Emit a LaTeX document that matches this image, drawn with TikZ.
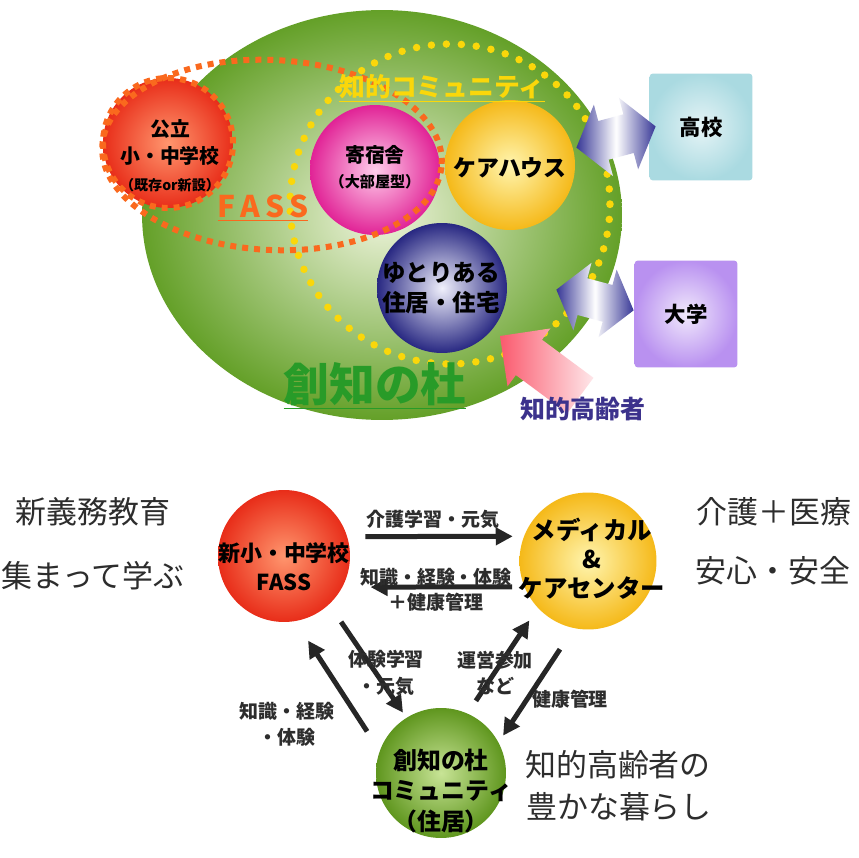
\documentclass[tikz,border=0pt]{standalone}
\usepackage{fontspec}
\setmainfont{Noto Sans CJK JP}
\usepackage{tikz}
\usetikzlibrary{arrows.meta,positioning,shapes.geometric}
\definecolor{forestgreen}{RGB}{100,160,40}
\definecolor{forestlight}{RGB}{238,244,220}
\definecolor{morigreen}{RGB}{40,155,40}
\definecolor{fassorange}{RGB}{250,105,30}
\definecolor{commyellow}{RGB}{250,215,10}
\definecolor{ballred}{RGB}{232,45,25}
\definecolor{ballredin}{RGB}{255,150,110}
\definecolor{ballpink}{RGB}{225,35,150}
\definecolor{ballpinkin}{RGB}{255,205,235}
\definecolor{ballyellow}{RGB}{245,185,25}
\definecolor{ballyellowin}{RGB}{255,245,175}
\definecolor{ballblue}{RGB}{40,40,130}
\definecolor{ballbluein}{RGB}{240,240,252}
\definecolor{ballgreen}{RGB}{95,150,30}
\definecolor{ballgreenin}{RGB}{200,228,150}
\definecolor{arrowblue}{RGB}{55,55,150}
\definecolor{arrowpink}{RGB}{250,90,110}
\definecolor{boxcyan}{RGB}{170,218,225}
\definecolor{boxviolet}{RGB}{185,145,240}
\definecolor{textgrey}{RGB}{45,45,45}
\definecolor{elderblue}{RGB}{60,50,140}

\begin{document}
\begin{tikzpicture}[
    x=0.02cm, y=-0.02cm,
    ball/.style={circle, minimum size=2.6cm, inner sep=0pt},
    balltext/.style={align=center, font=\bfseries\fontsize{12.5}{16.4}\selectfont},
    big/.style={text=textgrey, font=\fontsize{17.6}{21}\selectfont},
    lbl/.style={text=textgrey, align=center, font=\bfseries\fontsize{10.8}{15}\selectfont},
    arrow/.style={-{Triangle[length=0.34cm,width=0.34cm]}, line width=0.1cm, draw=black!85},
    fassdots/.style={draw=fassorange, line width=0.12cm, dash pattern=on 0.12cm off 0.12cm},
    commdots/.style={draw=commyellow, line width=0.15cm, line cap=round, dash pattern=on 0cm off 0.3cm},
    box/.style={rectangle, minimum width=2.06cm, minimum height=2.14cm, rounded corners=2pt,
                font=\bfseries\fontsize{12.2}{14}\selectfont}
]
\path[use as bounding box, fill=white] (0,0) rectangle (859,858);

% 創知の杜
\node[ellipse, minimum width=9.6cm, minimum height=8.2cm, inner color=forestlight, outer color=forestgreen] (mori) at (382,215) {};
\node[circle, minimum size=6.4cm, commdots] (commring) at (450,204) {};
\node[ball, inner color=ballredin, outer color=ballred, fassdots] (koritsu) at (168,143) {};
\node[ball, inner color=ballpinkin, outer color=ballpink] (ryo) at (375,170) {};
\node[ball, inner color=ballyellowin, outer color=ballyellow] (care) at (510,165) {};
\node[ball, inner color=ballbluein, outer color=ballblue] (yutori) at (442,288) {};
\node[ellipse, minimum width=6.8cm, minimum height=3.8cm, rotate=-3, fassdots] (fassring) at (272,155) {};

\node[balltext, font=\bfseries\fontsize{11.3}{15.5}\selectfont] (koritsuT) at (170,156)
    {公立\\小・中学校\\{\fontsize{8}{10}\selectfont （既存or新設）}};
\node[balltext, font=\bfseries\fontsize{11.3}{14}\selectfont] (ryoT) at (375,167)
    {寄宿舎\\{\fontsize{8.6}{10}\selectfont （大部屋型）}};
\node[balltext, font=\bfseries\fontsize{13}{16}\selectfont] (careT) at (510,168) {ケアハウス};
\node[balltext, font=\bfseries\fontsize{13.4}{17}\selectfont] (yutoriT) at (441,288) {ゆとりある\\住居・住宅};

\node[text=commyellow, font=\bfseries\fontsize{14.7}{16}\selectfont] (commlabel) at (442,88) {\underline{知的コミュニティ}};
\node[text=fassorange, font=\bfseries\fontsize{17}{18}\selectfont] (fasslabel) at (263,208) {\underline{F\,A\,S\,S}};
\node[text=morigreen, font=\bfseries\fontsize{26}{28}\selectfont] (morilabel) at (375,386) {\underline{創知の杜}};

\node[box, inner color=boxcyan!30!white, outer color=boxcyan] (koko) at (701,127) {高校};
\node[box, inner color=boxviolet!20!white, outer color=boxviolet] (daigaku) at (686,314) {大学};

\begin{scope}[shift={(616,137)}, rotate=15]
  \shade[left color=arrowblue, right color=arrowblue, middle color=white]
    (-41,0) -- (-13,-37) -- (-13,-20) -- (13,-20) -- (13,-37) -- (41,0)
    -- (13,37) -- (13,20) -- (-13,20) -- (-13,37) -- cycle;
\end{scope}
\begin{scope}[shift={(595,300)}, rotate=-15]
  \shade[left color=arrowblue, right color=arrowblue, middle color=white]
    (-40,0) -- (-13,-35) -- (-13,-19) -- (13,-19) -- (13,-35) -- (40,0)
    -- (13,35) -- (13,19) -- (-13,19) -- (-13,35) -- cycle;
\end{scope}
\begin{scope}[shift={(500,336)}, rotate=143.5]
  \shade[left color=arrowpink, right color=arrowpink!15!white]
    (0,0) -- (-36,-36) -- (-36,-22) -- (-100,-22) -- (-100,22) -- (-36,22) -- (-36,36) -- cycle;
\end{scope}
\node[text=elderblue, font=\bfseries\fontsize{14.2}{16}\selectfont] (elder) at (583,409) {知的高齢者};

% 下段
\node[big] (gimu) at (93,512) {新義務教育};
\node[big] (atsumatte) at (93,576) {集まって学ぶ};
\node[big] (kaigo) at (774,512) {介護＋医療};
\node[big] (anshin) at (773,571) {安心・安全};
\node[big] (chiteki) at (618,765) {知的高齢者の};
\node[big] (yutaka) at (619,807) {豊かな暮らし};

\node[ball, minimum size=2.64cm, inner color=ballredin, outer color=ballred] (newschool) at (284,556) {};
\node[ball, minimum size=2.74cm, inner color=ballyellowin, outer color=ballyellow] (medical) at (588,561) {};
\node[ball, inner color=ballgreenin, outer color=ballgreen] (community) at (441,773) {};
\node[balltext] (newschoolT) at (284,567) {新小・中学校\\FASS};
\node[balltext, font=\bfseries\fontsize{13.9}{16.4}\selectfont] (medicalT) at (592,559) {メディカル\\\&\\ケアセンター};
\node[balltext, font=\bfseries\fontsize{13.6}{17.5}\selectfont] (communityT) at (441,791) {創知の杜\\コミュニティ\\（住居）};

\draw[arrow, shorten <=0.36cm, shorten >=0.22cm] (newschool.17) -- (medical.159);
\draw[arrow, shorten <=0.24cm, shorten >=0.56cm] (medical.202.5) -- (newschool.-28);
\draw[arrow, shorten <=0.42cm, shorten >=0.12cm] (newschool.-47) -- (community.122);
\draw[arrow, shorten <=0.46cm, shorten >=0.46cm] (community.160) -- (newschool.-80);
\draw[arrow, shorten <=0.3cm, shorten >=0.3cm] (community.66) -- (medical.223.5);
\draw[arrow, shorten <=0.5cm, shorten >=0.16cm] (medical.258) -- (community.28.6);

\node[lbl] (kaigoL) at (433,519) {介護学習・元気};
\node[lbl, font=\bfseries\fontsize{10.8}{14.2}\selectfont] (chishikiL) at (436,590) {知識・経験・体験\\＋健康管理};
\node[lbl] (taikenL) at (386,673) {体験学習\\・元気};
\node[lbl] (uneiL) at (495,673) {運営参加\\など};
\node[lbl] (keikenL) at (287,724) {知識・経験\\・体験};
\node[lbl] (kenkoL) at (570,699) {健康管理};
\end{tikzpicture}
\end{document}
